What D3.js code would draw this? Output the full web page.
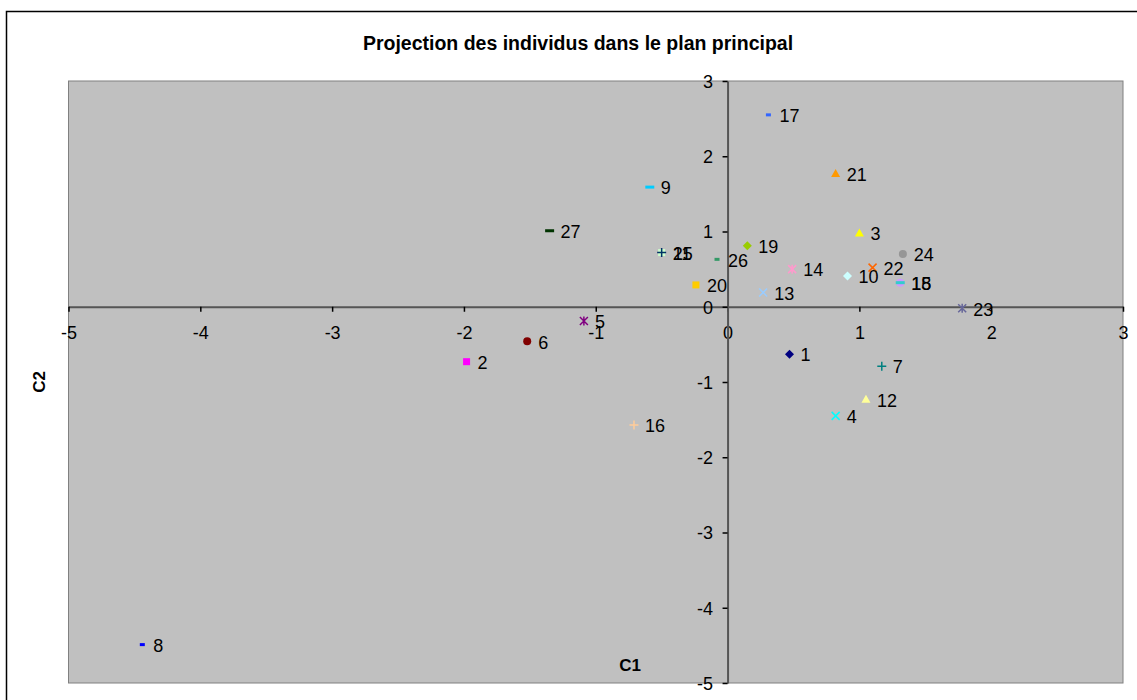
<!DOCTYPE html>
<html><head><meta charset="utf-8">
<script src="https://cdn.jsdelivr.net/npm/d3@7"></script>
<style>
html,body{margin:0;padding:0;background:#fff;}
text{font-family:"Liberation Sans",Arial,sans-serif;}
</style></head>
<body><svg id="c" width="1137" height="700"></svg>
<script>
const ids = [1,2,3,4,5,6,7,8,9,10,11,12,13,14,15,16,17,18,19,20,21,22,23,24,25,26,27];
const c1 = [0.47,-1.98,1.00,0.82,-1.09,-1.52,1.17,-4.44,-0.59,0.91,-0.50,1.05,0.27,0.49,1.31,-0.71,0.31,1.31,0.15,-0.24,0.82,1.10,1.78,1.33,-0.50,-0.08,-1.35];
const c2 = [-0.63,-0.73,0.98,-1.45,-0.19,-0.46,-0.79,-4.49,1.59,0.41,0.72,-1.23,0.19,0.50,0.32,-1.57,2.55,0.32,0.81,0.29,1.77,0.52,-0.02,0.70,0.72,0.63,1.01];
const xTicks = [-5,-4,-3,-2,-1,0,1,2,3];
const yTicks = [-5,-4,-3,-2,-1,0,1,2,3];
const colors = ["#000080","#FF00FF","#FFFF00","#00FFFF","#800080","#800000","#008080","#0000FF","#00CCFF",
  "#CCFFFF","#CCFFCC","#FFFF99","#99CCFF","#FF99CC","#CC99FF","#FFCC99","#3366FF","#33CCCC",
  "#99CC00","#FFCC00","#FF9900","#FF6600","#666699","#969696","#003366","#339966","#003300"];
const shapes = ["diamond","square","triangle","x","star","circle","plus","sdash","ldash"];

const svg = d3.select("#c");
const L=68.5, T=81, R=1123, B=683;
const x = d3.scaleLinear().domain([-5,3]).range([L,R]);
const y = d3.scaleLinear().domain([-5,3]).range([B,T]);

svg.append("rect").attr("x",6.5).attr("y",11.5).attr("width",1140).attr("height",700)
  .attr("fill","#fff").attr("stroke","#000").attr("stroke-width",1.5);
svg.append("rect").attr("x",L).attr("y",T).attr("width",R-L).attr("height",B-T)
  .attr("fill","#C0C0C0").attr("stroke","#808080").attr("stroke-width",1);

svg.append("text").attr("x",578).attr("y",50).attr("text-anchor","middle")
  .attr("font-size",19.5).attr("font-weight","bold").text("Projection des individus dans le plan principal");

const fmt = d => String(d);
const xa = svg.append("g").attr("transform",`translate(0,${y(0)})`)
  .call(d3.axisBottom(x).tickValues(xTicks).tickSize(5).tickSizeOuter(0).tickPadding(14).tickFormat(fmt));
const ya = svg.append("g").attr("transform",`translate(${x(0)},0)`)
  .call(d3.axisLeft(y).tickValues(yTicks).tickSize(5).tickSizeOuter(0).tickPadding(9.5).tickFormat(fmt));
[xa,ya].forEach(g=>{
  g.select(".domain").attr("stroke","#555").attr("stroke-width",2);
  g.selectAll(".tick line").attr("stroke","#000").attr("stroke-width",1.5);
  g.selectAll(".tick text").attr("font-size",18).attr("fill","#000").style("font-family","Liberation Sans, Arial, sans-serif");
});
ya.selectAll(".tick text").attr("dy","0.35em");

svg.append("text").attr("transform","translate(45,382) rotate(-90)").attr("text-anchor","middle")
  .attr("font-size",17).attr("font-weight","bold").text("C2");
svg.append("text").attr("x",630).attr("y",671).attr("text-anchor","middle")
  .attr("font-size",17).attr("font-weight","bold").text("C1");

function marker(g, shape, col){
  if(shape==="diamond") g.append("path").attr("d","M0,-4.5L4.5,0L0,4.5L-4.5,0Z").attr("fill",col);
  else if(shape==="square") g.append("rect").attr("x",-3.5).attr("y",-3.5).attr("width",7).attr("height",7).attr("fill",col);
  else if(shape==="triangle") g.append("path").attr("d","M0,-4.5L4.5,3.5L-4.5,3.5Z").attr("fill",col);
  else if(shape==="x") g.append("path").attr("d","M-4,-4L4,4M-4,4L4,-4").attr("stroke",col).attr("stroke-width",1.5).attr("fill","none");
  else if(shape==="star") g.append("path").attr("d","M-4,-4L4,4M-4,4L4,-4M0,-4.5L0,4.5").attr("stroke",col).attr("stroke-width",1.5).attr("fill","none");
  else if(shape==="circle") g.append("circle").attr("r",4).attr("fill",col);
  else if(shape==="plus") g.append("path").attr("d","M-4.5,0L4.5,0M0,-4.5L0,4.5").attr("stroke",col).attr("stroke-width",1.5).attr("fill","none");
  else if(shape==="sdash") g.append("rect").attr("x",-2.5).attr("y",-1.5).attr("width",5).attr("height",3).attr("fill",col);
  else if(shape==="ldash") g.append("rect").attr("x",-4.5).attr("y",-1.5).attr("width",9).attr("height",3).attr("fill",col);
}

const pts = svg.append("g");
ids.forEach((id,i)=>{
  const g = pts.append("g").attr("transform",`translate(${x(c1[i])},${y(c2[i])})`);
  marker(g, shapes[i%9], colors[i]);
});
ids.forEach((id,i)=>{
  pts.append("text").attr("x",x(c1[i])+11).attr("y",y(c2[i])+1).attr("dy","0.35em")
    .attr("font-size",18).attr("fill","#000").text(id);
});
</script></body></html>
